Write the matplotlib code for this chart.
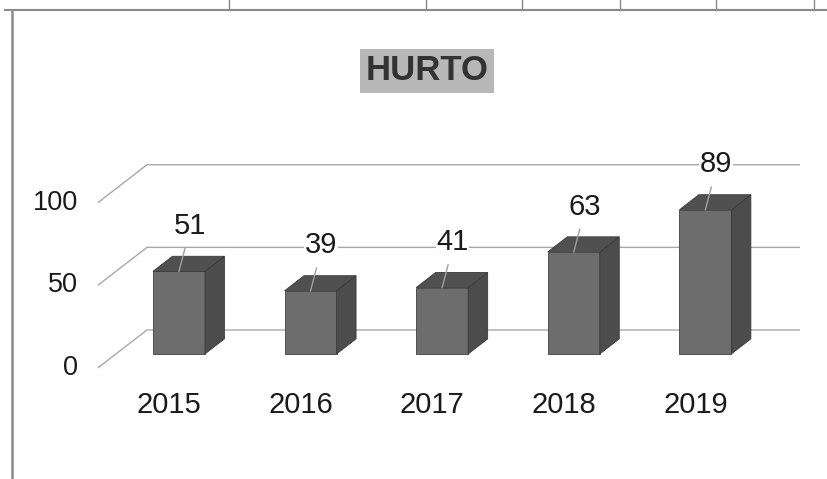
import matplotlib
matplotlib.use('Agg')
import matplotlib.pyplot as plt
from matplotlib.patches import Polygon
from matplotlib.lines import Line2D

plt.rcParams['font.family'] = ['Liberation Sans', 'DejaVu Sans']

# ---- data ----
years = ['2015', '2016', '2017', '2018', '2019']
values = [51, 39, 41, 63, 89]
yticks = [0, 50, 100]
title = 'HURTO'

# ---- figure ----
W, H = 827, 479
fig = plt.figure(figsize=(W / 100, H / 100), dpi=100)
fig.patch.set_facecolor('white')
ax = fig.add_axes([0, 0, 1, 1])
ax.set_xlim(-1.360, 4.924)
ax.set_ylim(-77.2, 218.5)
ax.axis('off')

# 3D-look style parameters
bw = 0.395            # front face width (category units)
ddx, ddy = 0.148, 9.3  # depth offset
front_x, back_x, right_x = -0.616, -0.243, 4.719
gs = 1.02
front_off, back_off = -8.6, 14.8
grid_color = '#a8a8a8'

# walls / gridlines
for t in yticks:
    yf = t * gs + front_off
    yb = t * gs + back_off
    ax.plot([front_x, back_x, right_x], [yf, yb, yb], color=grid_color,
            lw=1.0, zorder=1, solid_capstyle='butt')
    ax.text(-0.77, yf, str(t), ha='right', va='center', fontsize=19.5,
            color='#1a1a1a', zorder=5)

# bars
for i, v in enumerate(values):
    x0, x1 = i - bw / 2, i + bw / 2
    front = Polygon([(x0, 0), (x1, 0), (x1, v), (x0, v)], closed=True,
                    fc='#6d6d6d', ec='#404040', lw=0.6, zorder=3)
    side = Polygon([(x1, 0), (x1 + ddx, ddy), (x1 + ddx, v + ddy), (x1, v)],
                   closed=True, fc='#4c4c4c', ec='#3a3a3a', lw=0.6, zorder=3)
    top = Polygon([(x0, v), (x1, v), (x1 + ddx, v + ddy), (x0 + ddx, v + ddy)],
                  closed=True, fc='#505050', ec='#3a3a3a', lw=0.6, zorder=3)
    for p in (front, side, top):
        ax.add_patch(p)
    # leader line + value label
    ax.plot([i, i + 0.045], [v, v + 14], color='#a0a0a0', lw=1.0, zorder=4)
    ax.text(i + 0.08, v + 28, str(v), ha='center', va='center',
            fontsize=21, color='#1a1a1a', zorder=5,
            bbox=dict(fc='white', ec='none', pad=0.5))
    # category label
    ax.text(i - 0.076, -31.5, years[i], ha='center', va='center',
            fontsize=21, color='#1a1a1a', zorder=5)

# title
fig.text(427 / W, 1 - 71 / H, title, ha='center', va='center',
         fontsize=25, fontweight='bold', color='#333333',
         bbox=dict(boxstyle='square,pad=0.17', fc='#b8b8b8', ec='none'))

# scanned page borders
fig.add_artist(Line2D([5 / W, 1], [1 - 10 / H, 1 - 10 / H],
                      transform=fig.transFigure, color='#8a8a8a', lw=1.5))
fig.add_artist(Line2D([12 / W, 12 / W], [0, 1 - 10 / H],
                      transform=fig.transFigure, color='#8a8a8a', lw=1.8))
for px in [229, 426, 522, 620, 716, 814]:
    fig.add_artist(Line2D([px / W, px / W], [1 - 10 / H, 1],
                          transform=fig.transFigure, color='#8a8a8a', lw=1.0))

fig.savefig('out.png', dpi=100, facecolor='white')
